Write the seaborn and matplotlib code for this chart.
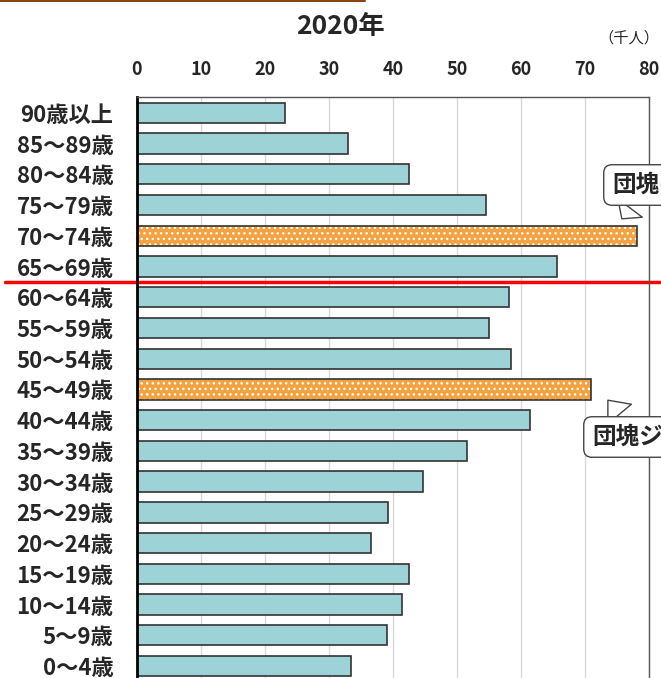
import matplotlib
matplotlib.use("Agg")
import matplotlib.pyplot as plt
import seaborn as sns
import pandas as pd
from matplotlib.lines import Line2D
from matplotlib.colors import to_rgba

# age groups, top to bottom
ages = ["90歳以上", "85～89歳", "80～84歳", "75～79歳", "70～74歳", "65～69歳",
        "60～64歳", "55～59歳", "50～54歳", "45～49歳", "40～44歳", "35～39歳",
        "30～34歳", "25～29歳", "20～24歳", "15～19歳", "10～14歳", "5～9歳", "0～4歳"]
# population (thousand people), 2020
population = [23.1, 33.0, 42.5, 54.5, 78.1, 65.6,
              58.1, 55.0, 58.4, 70.9, 61.4, 51.6,
              44.7, 39.2, 36.6, 42.5, 41.4, 39.1, 33.4]
# highlighted generations
group = ["other"] * 4 + ["boom"] + ["other"] * 4 + ["boom"] + ["other"] * 9
xticks = [0, 10, 20, 30, 40, 50, 60, 70, 80]

teal = "#9DD3D7"
orange = "#F4A23F"

df = pd.DataFrame({"age": ages, "pop": population, "group": group})

sns.set_style("white")
plt.rcParams["font.family"] = ["Noto Sans CJK JP", "DejaVu Sans"]
plt.rcParams["hatch.linewidth"] = 1.0

fig = plt.figure(figsize=(6.61, 6.78), dpi=100)
ax = fig.add_axes([137 / 661, -0.005, 512 / 661, 0.8612])

sns.barplot(data=df, x="pop", y="age", hue="group", order=ages,
            palette={"other": teal, "boom": orange}, dodge=False, legend=False,
            width=0.66, edgecolor="#333333", linewidth=1.2, saturation=1, ax=ax)

# dotted pattern on the highlighted bars
for p in ax.patches:
    if to_rgba(p.get_facecolor())[:3] == to_rgba(orange)[:3]:
        p.set_hatch("...")
        if hasattr(p, "set_hatchcolor"):
            p.set_hatchcolor("white")
        else:
            p._hatch_color = (1, 1, 1, 1)

ax.set_xlim(0, 80)
ax.set_xticks(xticks)
ax.xaxis.tick_top()
ax.tick_params(axis="x", length=0, pad=13, labelsize=13)
ax.tick_params(axis="y", length=0, pad=17, labelsize=16)
for lab in ax.get_xticklabels() + ax.get_yticklabels():
    lab.set_fontweight("bold")
ax.set_xlabel("")
ax.set_ylabel("")
ax.grid(axis="x", color="#D9D9D9", linewidth=1)
ax.set_axisbelow(True)
for s in ["top", "right", "bottom"]:
    ax.spines[s].set_color("#555555")
    ax.spines[s].set_linewidth(1)
ax.spines["left"].set_color("black")
ax.spines["left"].set_linewidth(2)

# red divider between 65-69 and 60-64
ax.axhline(5.5, xmin=-0.258, xmax=1.05, color="red", linewidth=2.5, clip_on=False)

# callouts
bubble = dict(boxstyle="round,pad=0.35", fc="white", ec="#444444", lw=1)
ax.annotate("団塊の世代", xy=(75.5, 3.52), xytext=(612, 678 - 185),
            textcoords="figure pixels", ha="left", va="center",
            fontsize=17, fontweight="bold", annotation_clip=False,
            bbox=bubble,
            arrowprops=dict(arrowstyle="wedge,tail_width=1.3,shrink_factor=0.5",
                            fc="white", ec="#444444", lw=1, relpos=(0.3, 0.5)))
ax.annotate("団塊ジュニア", xy=(73.3, 9.28), xytext=(592, 678 - 437),
            textcoords="figure pixels", ha="left", va="center",
            fontsize=17, fontweight="bold", annotation_clip=False,
            bbox=bubble,
            arrowprops=dict(arrowstyle="wedge,tail_width=1.3,shrink_factor=0.5",
                            fc="white", ec="#444444", lw=1, relpos=(0.33, 0.5)))

fig.text(340 / 661, 1 - 27 / 678, "2020年", ha="center", va="center",
         fontsize=19, fontweight="bold")
fig.text(629 / 661, 1 - 38 / 678, "（千人）", ha="center", va="center", fontsize=11)
fig.add_artist(Line2D([0, 365 / 661], [1 - 1 / 678, 1 - 1 / 678],
                      color="#8B4513", linewidth=1.5))

fig.savefig("out.png", dpi=100)
